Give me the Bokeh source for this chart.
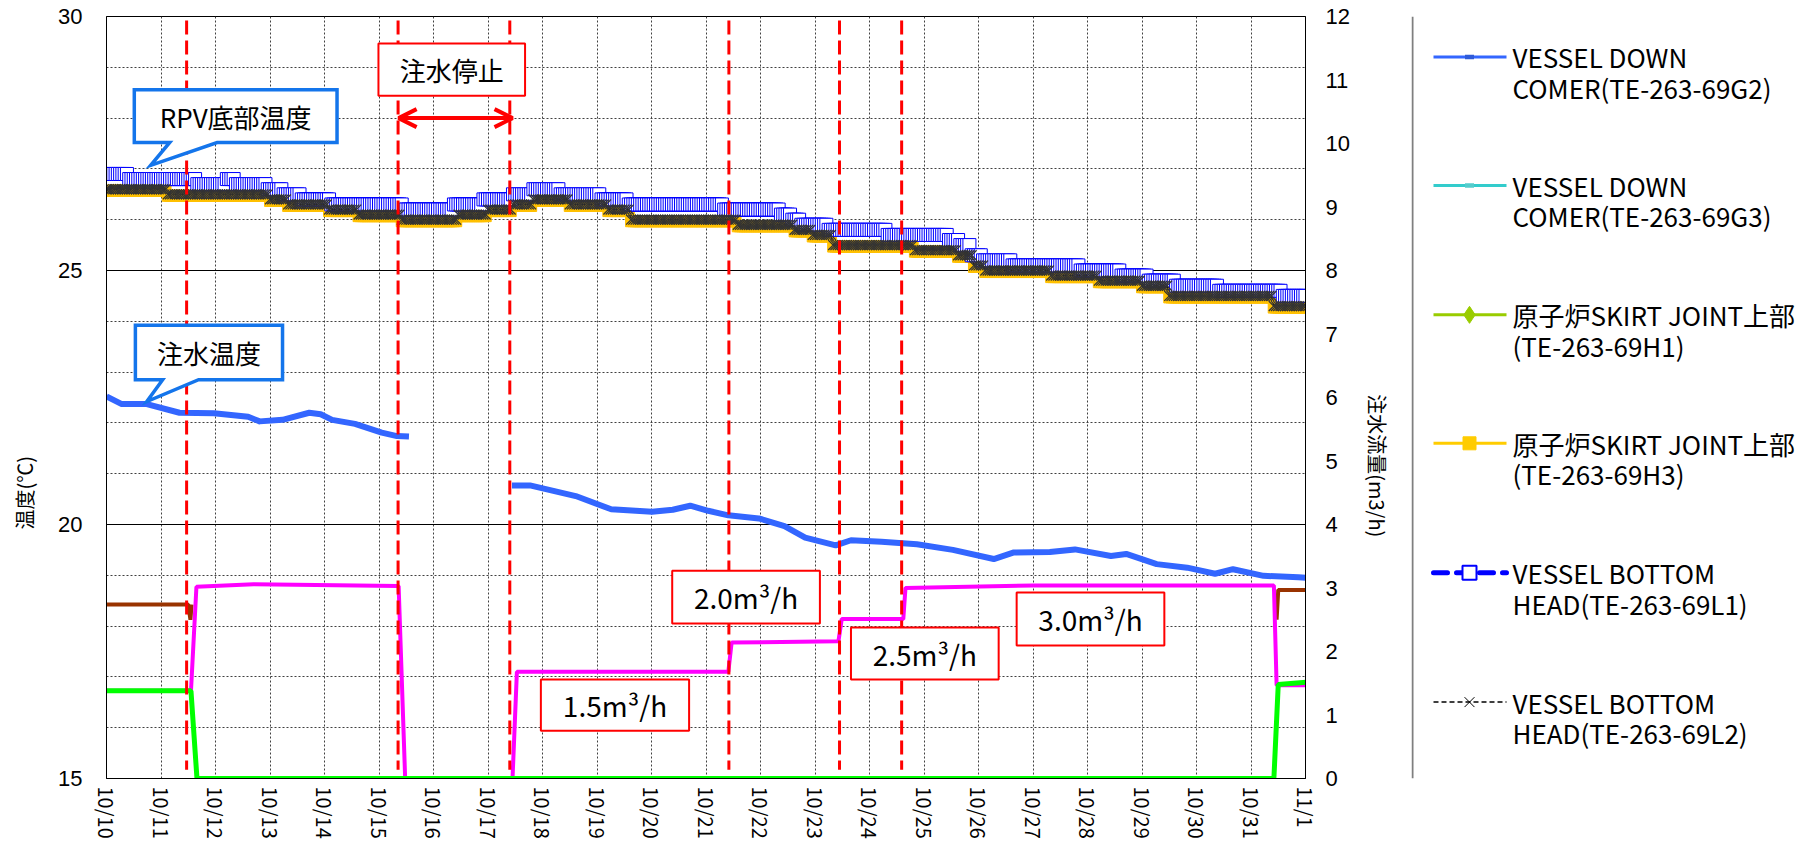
import math
import numpy as np
from bokeh.plotting import figure
from bokeh.models import Range1d, LinearAxis, FixedTicker, Arrow, OpenHead
from bokeh.layouts import row
from bokeh.embed import file_html
from bokeh.resources import INLINE
from bokeh.core.properties import value

FONT = "Noto Sans CJK JP"
NUMFONT = "Liberation Sans"

# ---------------- data ----------------
day_labels = ["10/10", "10/11", "10/12", "10/13", "10/14", "10/15", "10/16", "10/17",
              "10/18", "10/19", "10/20", "10/21", "10/22", "10/23", "10/24", "10/25",
              "10/26", "10/27", "10/28", "10/29", "10/30", "10/31", "11/1"]
day_ticks = list(range(len(day_labels)))

left_title = "温度(℃)"
right_title = "注水流量(m3/h)"

# injection water temperature (days since 10/10 0:00, deg C)
inj_day = [0.0, 0.28, 0.74, 1.34, 1.97, 2.60, 2.81, 3.23, 3.72, 3.93, 4.14, 4.56, 5.05, 5.33, 5.55,
           float("nan"),
           7.44, 7.77, 8.61, 9.26, 10.01, 10.39, 10.71, 11.04, 11.41, 11.97, 12.44, 12.82, 13.38,
           13.66, 14.22, 14.87, 15.53, 16.28, 16.65, 17.31, 17.77, 18.43, 18.71, 19.27, 19.83,
           20.34, 20.67, 21.23, 21.87, 22.14]
inj_temp = [22.52, 22.37, 22.37, 22.20, 22.19, 22.12, 22.03, 22.06, 22.20, 22.17, 22.06, 21.98,
            21.81, 21.74, 21.73,
            float("nan"),
            20.77, 20.77, 20.56, 20.30, 20.25, 20.29, 20.37, 20.27, 20.18, 20.12, 19.97, 19.74,
            19.59, 19.69, 19.66, 19.61, 19.50, 19.32, 19.45, 19.46, 19.51, 19.38, 19.42, 19.22,
            19.15, 19.03, 19.12, 18.99, 18.96, 18.94]

# VESSEL BOTTOM HEAD L1 (hourly readings, stepwise 0.1 deg C)
l1_step_day = [0.0, 0.4, 1.65, 2.2, 2.35, 2.95, 3.25, 3.55, 4.1, 5.45, 6.35, 6.9, 7.45, 7.8,
               8.3, 9.05, 9.55, 11.3, 12.35, 12.55, 12.75, 13.25, 14.3, 15.45, 15.65, 15.85,
               16.05, 16.6, 17.85, 18.6, 19.1, 19.6, 20.4, 21.55]
l1_step_temp = [26.9, 26.8, 26.7, 26.8, 26.7, 26.6, 26.5, 26.4, 26.3, 26.2, 26.3, 26.4, 26.5,
                26.6, 26.5, 26.4, 26.3, 26.2, 26.1, 26.0, 25.9, 25.8, 25.7, 25.6, 25.5, 25.3,
                25.2, 25.1, 25.0, 24.9, 24.8, 24.7, 24.6, 24.5]

# VESSEL BOTTOM HEAD L2
l2_step_day = [0.0, 1.1, 3.0, 3.3, 4.05, 4.6, 5.4, 6.45, 7.0, 7.45, 7.8, 8.5, 9.2, 9.6, 11.55,
               12.6, 12.95, 13.3, 14.8, 15.6, 15.9, 16.1, 17.3, 18.2, 19.0, 19.5, 21.4]
l2_step_temp = [26.6, 26.5, 26.4, 26.3, 26.2, 26.1, 26.0, 26.1, 26.2, 26.3, 26.4, 26.3, 26.2,
                26.0, 25.9, 25.8, 25.7, 25.5, 25.4, 25.3, 25.1, 25.0, 24.9, 24.8, 24.7, 24.5,
                24.3]

# SKIRT JOINT H3
h3_step_day = l2_step_day
h3_step_temp = [26.57, 26.47, 26.37, 26.27, 26.17, 26.07, 25.97, 26.07, 26.17, 26.27, 26.37,
                26.27, 26.17, 25.97, 25.87, 25.77, 25.67, 25.47, 25.37, 25.27, 25.07, 24.97,
                24.87, 24.77, 24.67, 24.47, 24.27]

# injection flow (m3/h)
mag_day = [0.0, 1.55, 1.65, 2.7, 5.36, 5.48, 7.45, 7.53, 11.41, 11.47, 13.43, 13.49, 14.62,
           14.66, 17.0, 21.42, 21.47, 22.1]
mag_flow = [1.38, 1.38, 3.02, 3.06, 3.03, 0.0, 0.0, 1.68, 1.68, 2.14, 2.16, 2.51, 2.51, 3.0,
            3.04, 3.04, 1.47, 1.47]
grn_day = [0.0, 1.55, 1.66, 21.42, 21.50, 22.1]
grn_flow = [1.38, 1.38, 0.0, 0.0, 1.48, 1.52]
brn_day = [0.0, 1.50, 1.54, 1.56, float("nan"), 21.47, 21.50, 22.1]
brn_flow = [2.74, 2.74, 2.5, 2.74, float("nan"), 2.5, 2.97, 2.97]

event_day = [1.47, 5.35, 7.40, 11.42, 13.45, 14.59]

rate_labels = ["1.5m³/h", "2.0m³/h", "2.5m³/h", "3.0m³/h"]

legend_line1 = ["VESSEL DOWN", "VESSEL DOWN", "原子炉SKIRT JOINT上部", "原子炉SKIRT JOINT上部",
                "VESSEL BOTTOM", "VESSEL BOTTOM"]
legend_line2 = ["COMER(TE-263-69G2)", "COMER(TE-263-69G3)", "(TE-263-69H1)", "(TE-263-69H3)",
                "HEAD(TE-263-69L1)", "HEAD(TE-263-69L2)"]

# ---------------- layout constants (annotation geometry) ----------------
rate_box_left = [7.97, 10.38, 13.66, 16.70]
rate_box_right = [10.69, 13.09, 16.37, 19.41]
rate_box_top = [16.95, 19.09, 17.97, 18.66]
rate_box_bottom = [15.94, 18.05, 16.95, 17.62]

H = 848
hours = np.arange(0, 22 * 24 + 1) / 24.0


def hourly(step_day, step_temp):
    idx = np.searchsorted(np.array(step_day), hours, side="right") - 1
    return np.array(step_temp)[idx]


l1 = hourly(l1_step_day, l1_step_temp)
l2 = hourly(l2_step_day, l2_step_temp)
h3 = hourly(h3_step_day, h3_step_temp)


def blank(width):
    f = figure(width=width, height=H, x_range=Range1d(0, width), y_range=Range1d(H, 0),
               output_backend="svg", toolbar_location=None, min_border=0,
               x_axis_location=None, y_axis_location=None)
    f.grid.visible = False
    f.outline_line_color = None
    f.background_fill_color = "white"
    f.border_fill_color = "white"
    return f


# ---------------- left title strip ----------------
lt = blank(55)
lt.text(x=[24], y=[530], text=[left_title], angle=math.pi / 2, text_font=value(FONT),
        text_font_size="20px", text_align="center", text_baseline="middle", text_color="black")

# ---------------- main figure ----------------
p = figure(width=1298, height=H, x_range=Range1d(0, 22), y_range=Range1d(15, 30),
           output_backend="svg", toolbar_location=None,
           min_border_left=50, min_border_right=48, min_border_top=16, min_border_bottom=70)
p.background_fill_color = "white"
p.border_fill_color = "white"
p.outline_line_color = "black"
p.outline_line_width = 1
p.extra_y_ranges = {"flow": Range1d(0, 12)}

xa = p.xaxis[0]
xa.ticker = FixedTicker(ticks=day_ticks)
xa.major_label_overrides = {t: s for t, s in zip(day_ticks, day_labels)}
xa.major_label_orientation = -math.pi / 2
ya = p.yaxis[0]
ya.ticker = FixedTicker(ticks=[15, 20, 25, 30], minor_ticks=list(range(15, 31)))

ra = LinearAxis(y_range_name="flow", ticker=FixedTicker(ticks=list(range(13))))
p.add_layout(ra, "right")

for ax in (xa, ya, ra):
    ax.major_label_text_color = "black"
    ax.major_tick_in = 0
    ax.major_tick_out = 0
    ax.minor_tick_in = 0
    ax.minor_tick_out = 0
    ax.axis_line_color = "black"
xa.major_label_text_font = FONT
xa.major_label_text_font_size = "20px"
xa.major_label_standoff = 8
ya.major_label_text_font = NUMFONT
ya.major_label_text_font_size = "22px"
ya.major_label_standoff = 24
ra.major_label_text_font = NUMFONT
ra.major_label_text_font_size = "22px"
ra.major_label_standoff = 20

p.xgrid.grid_line_color = "#404040"
p.xgrid.grid_line_dash = "2 2"
p.xgrid.grid_line_width = 1
p.ygrid.grid_line_color = "black"
p.ygrid.grid_line_width = 1
p.ygrid.minor_grid_line_color = "#404040"
p.ygrid.minor_grid_line_dash = "2 2"

# temperature series
p.scatter(hours, h3, marker="square", size=11, fill_color="#FFC000", line_color="#FFC000")
p.line(hours, l1, line_color="#0000FF", line_width=2, line_dash="6 4")
p.scatter(hours, l1, marker="square", size=13, fill_color="white", line_color="#0000FF",
          line_width=1)
p.line(hours, l2, line_color="black", line_width=1, line_dash="4 3")
p.scatter(hours, l2, marker="x", size=14, line_color="#333333", line_width=1.3)

# flow series
p.line(brn_day, brn_flow, y_range_name="flow", line_color="#993300", line_width=4)
p.line(mag_day, mag_flow, y_range_name="flow", line_color="#FF00FF", line_width=4)
p.line(grn_day, grn_flow, y_range_name="flow", line_color="#00FF00", line_width=5)

# injection temperature
p.line(inj_day, inj_temp, line_color="#3366FF", line_width=6, line_join="round")

# event lines
p.segment(x0=event_day, y0=29.92, x1=event_day, y1=15.17, line_color="#FF0000",
          line_width=3, line_dash="14 6")

# arrow (injection stop)
p.add_layout(Arrow(x_start=5.36, y_start=28.0, x_end=7.45, y_end=28.0,
                   line_color="#FF0000", line_width=4,
                   start=OpenHead(line_color="#FF0000", line_width=4, size=18),
                   end=OpenHead(line_color="#FF0000", line_width=4, size=18)))

# red label boxes
box_l = rate_box_left + [4.99]
box_r = rate_box_right + [7.68]
box_t = rate_box_top + [29.47]
box_b = rate_box_bottom + [28.44]
p.quad(left=box_l, right=box_r, top=box_t, bottom=box_b, fill_color="white",
       line_color="#FF0000", line_width=2)
p.text(x=[(a + b) / 2 for a, b in zip(rate_box_left, rate_box_right)],
       y=[(a + b) / 2 for a, b in zip(rate_box_top, rate_box_bottom)],
       text=rate_labels, text_font=value(FONT), text_font_size="28px",
       text_align="center", text_baseline="middle", text_color="black")
p.text(x=[(4.99 + 7.68) / 2], y=[(29.47 + 28.44) / 2], text=["注水停止"],
       text_font=value(FONT), text_font_size="26px", text_align="center",
       text_baseline="middle", text_color="black")

# blue callouts
call_xs = [[0.51, 4.23, 4.23, 2.03, 0.81, 1.16, 0.51],
           [0.53, 3.23, 3.23, 1.69, 0.74, 1.03, 0.53]]
call_ys = [[28.56, 28.56, 27.52, 27.52, 27.07, 27.52, 27.52],
           [23.92, 23.92, 22.85, 22.85, 22.42, 22.85, 22.85]]
p.patches(xs=call_xs, ys=call_ys, fill_color="white", line_color="#1475EB", line_width=3.5,
          line_join="miter")
p.text(x=[(0.51 + 4.23) / 2, (0.53 + 3.23) / 2], y=[(28.56 + 27.52) / 2, (23.92 + 22.85) / 2],
       text=["RPV底部温度", "注水温度"], text_font=value(FONT), text_font_size="26px",
       text_align="center", text_baseline="middle", text_color="black")

# ---------------- right title strip ----------------
rt = blank(58)
rt.text(x=[24], y=[500], text=[right_title], angle=-math.pi / 2, text_font=value(FONT),
        text_font_size="20px", text_align="center", text_baseline="middle", text_color="black")

# ---------------- legend figure ----------------
lg = blank(402)
lg.segment(x0=[1], y0=[0], x1=[1], y1=[H], line_color="#7f7f7f", line_width=2)

row_y = [45, 188, 332, 475, 619, 763]
sx0, sx1, smid, tx = 22, 95, 58, 101

lg.segment(x0=sx0, y0=row_y[0], x1=sx1, y1=row_y[0], line_color="#3366FF", line_width=3)
lg.rect(x=[smid], y=[row_y[0]], width=9, height=5, fill_color="#2F5BD8", line_color=None)
lg.segment(x0=sx0, y0=row_y[1], x1=sx1, y1=row_y[1], line_color="#33CCCC", line_width=3)
lg.rect(x=[smid], y=[row_y[1]], width=9, height=5, fill_color="#55CCCC", line_color=None)
lg.segment(x0=sx0, y0=row_y[2], x1=sx1, y1=row_y[2], line_color="#99CC00", line_width=3)
lg.scatter([smid], [row_y[2]], marker="diamond", size=17, fill_color="#99CC00",
           line_color="#99CC00")
lg.segment(x0=sx0, y0=row_y[3], x1=sx1, y1=row_y[3], line_color="#FFCC00", line_width=3)
lg.scatter([smid], [row_y[3]], marker="square", size=13, fill_color="#FFCC00",
           line_color="#FFCC00")
lg.segment(x0=sx0, y0=row_y[4], x1=sx1, y1=row_y[4], line_color="#0000FF", line_width=5,
           line_dash="14 9", line_cap="round")
lg.scatter([smid], [row_y[4]], marker="square", size=14, fill_color="white",
           line_color="#0000FF", line_width=2)
lg.segment(x0=sx0, y0=row_y[5], x1=sx1, y1=row_y[5], line_color="black", line_width=1.5,
           line_dash="5 3")
lg.scatter([smid], [row_y[5]], marker="x", size=14, line_color="black", line_width=1)

lg.text(x=[tx] * 6, y=row_y, text=legend_line1, text_font=value(FONT),
        text_font_size="26px", text_align="left", text_baseline="middle", text_color="black")
lg.text(x=[tx] * 6, y=[v + 34 for v in row_y], text=legend_line2, text_font=value(FONT),
        text_font_size="26px", text_align="left", text_baseline="middle", text_color="black")

layout = row(lt, p, rt, lg)
open("out.html", "w").write(file_html(layout, INLINE))
